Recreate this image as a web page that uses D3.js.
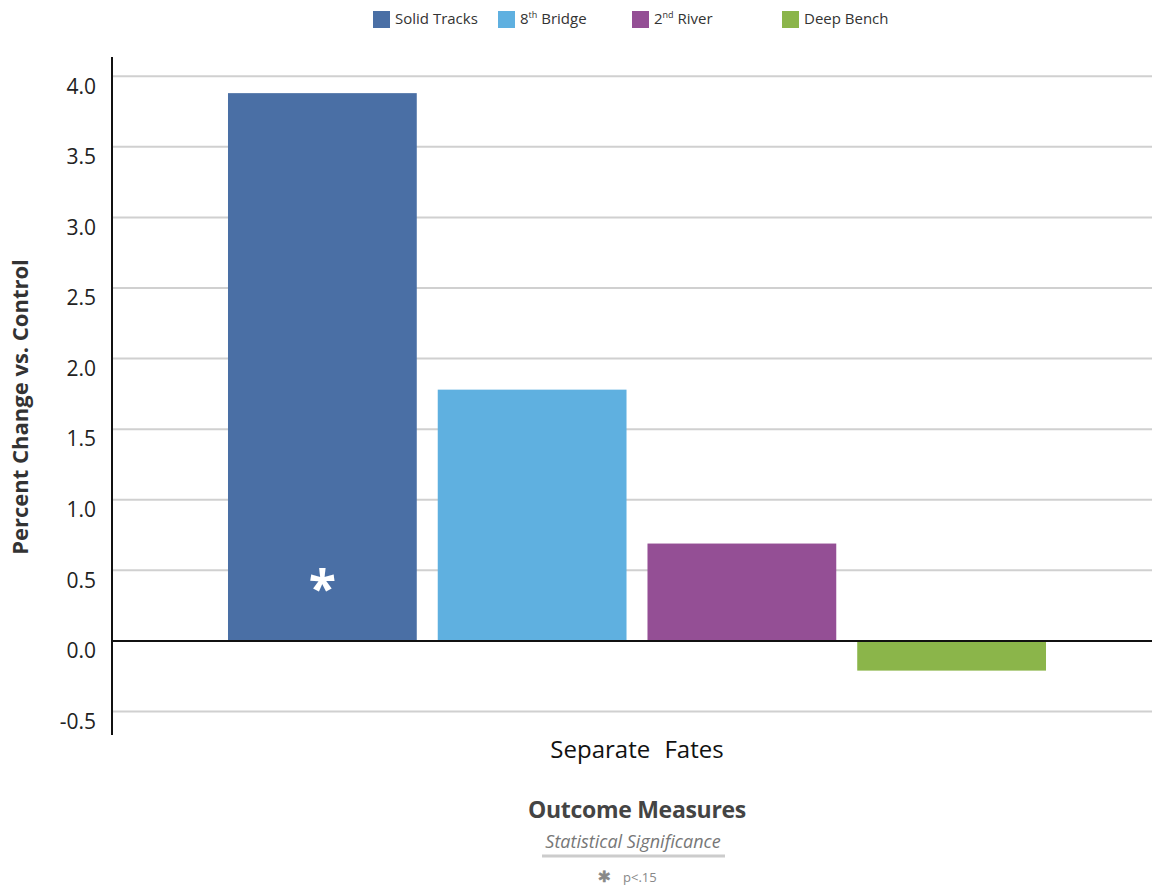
<!DOCTYPE html>
<html><head><meta charset="utf-8">
<script src="https://cdn.jsdelivr.net/npm/d3@7"></script>
<style>body{margin:0;background:#fff;} svg{display:block;}</style>
</head><body><svg id="c" width="1152" height="888"></svg>
<script>
const categories = ["Separate Fates"];
const seriesNames = ["Solid Tracks", "8th Bridge", "2nd River", "Deep Bench"];
const seriesLabels = [["Solid Tracks",""],["8","th"," Bridge"],["2","nd"," River"],["Deep Bench",""]];
const seriesValues = [3.88, 1.78, 0.69, -0.21];
const seriesColors = ["#4a6fa5", "#5fb0e0", "#944f95", "#8bb54a"];
const significant = [true, false, false, false];
const yTicks = [-0.5, 0, 0.5, 1.0, 1.5, 2.0, 2.5, 3.0, 3.5, 4.0];

const svg = d3.select("#c");
const font = "'Open Sans', 'Noto Sans', sans-serif";
const y = d3.scaleLinear().domain([-0.666, 4.136]).range([735, 57]);
const x0 = d3.scaleBand().domain(categories).range([112, 1162]).paddingInner(0).paddingOuter(0.1418);
const x1 = d3.scaleBand().domain(seriesNames).range([0, x0.bandwidth()]).paddingInner(0.1).paddingOuter(0);

// gridlines
svg.append("g").selectAll("line").data(yTicks.filter(d => d !== 0)).join("line")
  .attr("x1", 112).attr("x2", 1152)
  .attr("y1", d => y(d)).attr("y2", d => y(d))
  .attr("stroke", "#d0d0d0").attr("stroke-width", 2);

// bars
const g = svg.append("g");
categories.forEach(cat => {
  g.selectAll("rect.b").data(seriesNames).join("rect").attr("class","b")
    .attr("x", d => x0(cat) + x1(d))
    .attr("width", x1.bandwidth())
    .attr("y", (d,i) => y(Math.max(0, seriesValues[i])))
    .attr("height", (d,i) => Math.abs(y(seriesValues[i]) - y(0)))
    .attr("fill", (d,i) => seriesColors[i]);
  g.selectAll("text.sig").data(seriesNames.filter((d,i) => significant[i])).join("text").attr("class","sig")
    .attr("x", d => x0(cat) + x1(d) + x1.bandwidth()/2)
    .attr("y", y(0.5) + 36)
    .attr("text-anchor","middle").attr("fill","#fff")
    .attr("font-family", font).attr("font-size", 50).attr("font-weight","bold")
    .text("*");
});

// zero line & y axis line
svg.append("line").attr("x1",112).attr("x2",1152).attr("y1",y(0)).attr("y2",y(0))
  .attr("stroke","#111").attr("stroke-width",2);
const fmt = d => d3.format(".1f")(d).replace("\u2212", "-");
const yAxis = d3.axisLeft(y).tickValues(yTicks).tickFormat(fmt).tickSize(0).tickPadding(16);
const ya = svg.append("g").attr("transform","translate(112,0)").call(yAxis);
ya.select(".domain").attr("stroke","#111").attr("stroke-width",2).attr("d","M0,57V735");
ya.selectAll("text").attr("font-family",font).attr("font-size",21).attr("fill","#222").attr("dy","0.8em");

// x category label
svg.append("g").selectAll("text").data(categories).join("text")
  .attr("x", d => x0(d) + x0.bandwidth()/2).attr("y", 758)
  .attr("text-anchor","middle").attr("font-family",font).attr("font-size",24).attr("fill","#111")
  .attr("word-spacing", 8)
  .text(d => d);

// y title
svg.append("text").attr("transform","translate(28,407) rotate(-90)")
  .attr("text-anchor","middle").attr("font-family",font).attr("font-size",22).attr("font-weight","bold")
  .attr("fill","#333").text("Percent Change vs. Control");

// legend
const legX = [373, 498, 632, 782];
const leg = svg.append("g");
seriesNames.forEach((s,i) => {
  leg.append("rect").attr("x",legX[i]).attr("y",11).attr("width",17).attr("height",17).attr("fill",seriesColors[i]);
  const t = leg.append("text").attr("x",legX[i]+22).attr("y",24).attr("font-family",font).attr("font-size",15).attr("fill","#333");
  const parts = seriesLabels[i];
  if (parts.length === 3) {
    t.append("tspan").text(parts[0]);
    t.append("tspan").attr("font-size",9).attr("dy",-6).text(parts[1]);
    t.append("tspan").attr("dy",6).text(parts[2]);
  } else t.text(parts[0]);
});

// bottom notes
svg.append("text").attr("x",637).attr("y",818).attr("text-anchor","middle")
  .attr("font-family",font).attr("font-size",23).attr("font-weight","bold").attr("fill","#444").attr("letter-spacing","-0.3")
  .text("Outcome Measures");
svg.append("text").attr("x",633).attr("y",848).attr("text-anchor","middle")
  .attr("font-family",font).attr("font-size",18).attr("font-style","italic").attr("fill","#777")
  .text("Statistical Significance");
svg.append("line").attr("x1",542).attr("x2",725).attr("y1",856).attr("y2",856).attr("stroke","#ccc").attr("stroke-width",3);
svg.append("text").attr("x",604).attr("y",882).attr("text-anchor","middle")
  .attr("font-family","'DejaVu Sans', sans-serif").attr("font-size",18).attr("font-weight","bold")
  .attr("fill","#888").attr("stroke","#888").attr("stroke-width",0.6).text("\u2217");
svg.append("text").attr("x",623).attr("y",882)
  .attr("font-family",font).attr("font-size",13).attr("fill","#888").text("p<.15");
</script></body></html>
